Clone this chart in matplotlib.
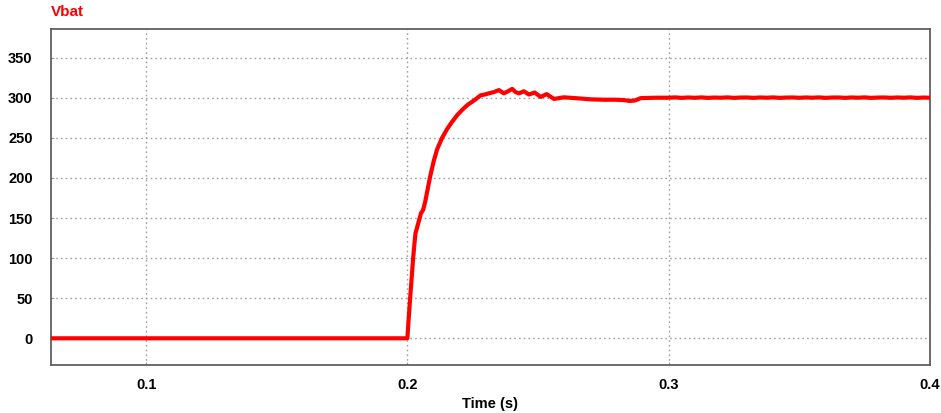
import matplotlib
matplotlib.use("Agg")
import matplotlib.pyplot as plt

# ---- data ----
time_s = [0.0635, 0.2000, 0.2005, 0.2011, 0.2017, 0.2022, 0.2027, 0.2031, 0.2037,
          0.2042, 0.2052, 0.2060, 0.2068, 0.2077, 0.2086, 0.2100, 0.2114, 0.2133,
          0.2152, 0.2171, 0.2190, 0.2210, 0.2230, 0.2248, 0.2265, 0.2280, 0.2296,
          0.2312, 0.2331, 0.2350, 0.2369, 0.2385, 0.2401, 0.2414, 0.2427, 0.2446,
          0.2465, 0.2487, 0.2510, 0.2533, 0.2561, 0.2599, 0.2663, 0.2701, 0.2750,
          0.2800, 0.2830, 0.2850, 0.2870, 0.2893, 0.2950,
          0.3000, 0.3025, 0.3050, 0.3075, 0.3100, 0.3125, 0.3150, 0.3175, 0.3200,
          0.3225, 0.3250, 0.3275, 0.3300, 0.3325, 0.3350, 0.3375, 0.3400, 0.3425,
          0.3450, 0.3475, 0.3500, 0.3525, 0.3550, 0.3575, 0.3600, 0.3625, 0.3650,
          0.3675, 0.3700, 0.3725, 0.3750, 0.3775, 0.3800, 0.3825, 0.3850, 0.3875,
          0.3900, 0.3925, 0.3950, 0.3975, 0.4000]
vbat = [0, 0, 25, 52, 78, 100, 118, 131, 138,
        144, 156, 160, 170, 185, 200, 220, 236, 250,
        261, 270, 278, 285, 291, 295, 299, 303, 304,
        305.5, 307, 309.5, 305.5, 308, 311, 307, 305.5, 308,
        304, 306.5, 301, 304.5, 298.5, 300.5, 299, 298, 297.5,
        297.5, 297, 296, 296.5, 299.5, 300,
        300, 300.4, 299.8, 300.3, 299.9, 300.4, 299.8, 300.2, 300.0,
        300.4, 299.8, 300.2, 300.3, 299.8, 300.3, 300.0, 300.4, 299.8,
        300.2, 300.3, 299.9, 300.3, 300.0, 300.4, 299.8, 300.2, 300.3,
        299.8, 300.3, 300.0, 300.4, 299.8, 300.2, 300.3, 299.9, 300.3,
        300.0, 300.4, 299.8, 300.2, 300.0]
x_ticks = [0.1, 0.2, 0.3, 0.4]
x_tick_labels = ["0.1", "0.2", "0.3", "0.4"]
y_ticks = [0, 50, 100, 150, 200, 250, 300, 350]

plt.rcParams['font.family'] = ['Liberation Sans', 'DejaVu Sans']

fig = plt.figure(figsize=(9.41, 4.13), dpi=100)
ax = fig.add_axes([0.0539, 0.1162, 0.9344, 0.8128])

ax.plot(time_s, vbat, color="#ff0000", linewidth=3.0, solid_joinstyle="round",
        solid_capstyle="round", zorder=3)

ax.set_xlim(0.0635, 0.4)
ax.set_ylim(-33.3, 385.3)
ax.set_xticks(x_ticks)
ax.set_xticklabels(x_tick_labels)
ax.set_yticks(y_ticks)

ax.grid(True, color="#a0a0a0", linestyle=(0, (1.2, 2.2)), linewidth=1.0)
ax.set_axisbelow(True)

for s in ax.spines.values():
    s.set_color("#606060")
    s.set_linewidth(1.3)

ax.tick_params(axis="both", direction="in", length=2, color="#a0a0a0",
               labelsize=10.5, colors="#a0a0a0", labelcolor="black")
ax.tick_params(axis="y", pad=13)
ax.tick_params(axis="x", pad=9)
for lab in ax.get_xticklabels() + ax.get_yticklabels():
    lab.set_fontweight("bold")

ax.set_xlabel("Time (s)", fontsize=10.5, fontweight="bold", labelpad=4)

fig.text(50.7 / 941, 1 - 12 / 413, "Vbat", color="#ff0000", fontsize=11,
         fontweight="bold", ha="left", va="center")

fig.savefig("out.png", dpi=100)
